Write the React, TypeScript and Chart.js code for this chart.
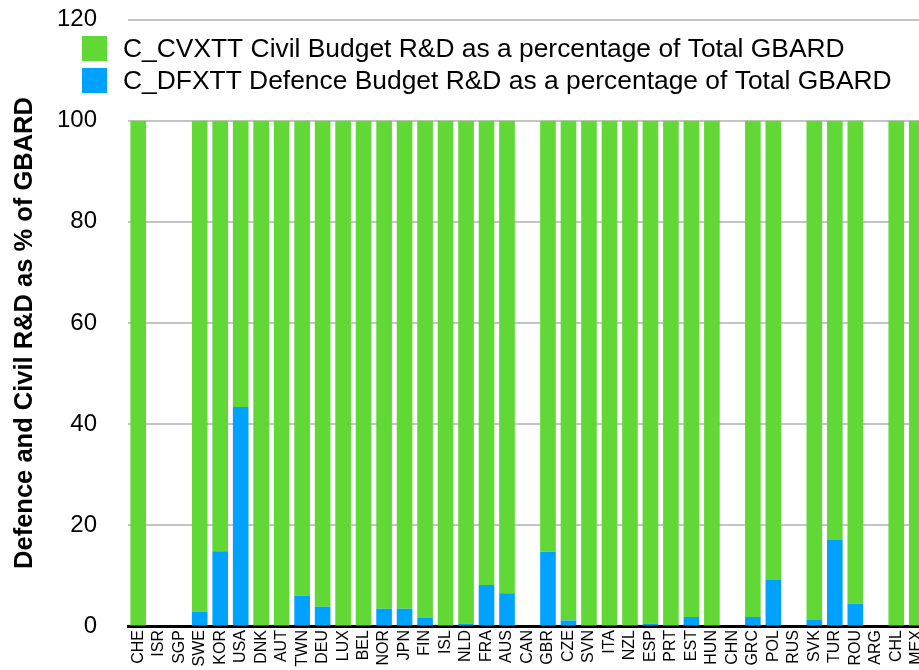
import { useEffect, useRef } from 'react';
import { Chart, registerables } from 'chart.js';

Chart.register(...registerables);

const FONT = "'Liberation Sans', Arial, Helvetica, sans-serif";
const GREEN = '#61D836';
const BLUE = '#00A2FF';

const categories = [
  'CHE', 'ISR', 'SGP', 'SWE', 'KOR', 'USA', 'DNK', 'AUT', 'TWN', 'DEU',
  'LUX', 'BEL', 'NOR', 'JPN', 'FIN', 'ISL', 'NLD', 'FRA', 'AUS', 'CAN',
  'GBR', 'CZE', 'SVN', 'ITA', 'NZL', 'ESP', 'PRT', 'EST', 'HUN', 'CHN',
  'GRC', 'POL', 'RUS', 'SVK', 'TUR', 'ROU', 'ARG', 'CHL', 'MEX',
];

const defence: (number | null)[] = [
  0, null, null, 3, 14.9, 43.4, 0, 0, 6.1, 3.9,
  0, 0, 3.5, 3.5, 1.8, 0, 0.6, 8.2, 6.6, null,
  14.8, 1.2, 0, 0, 0, 0.6, 0, 1.9, 0, null,
  1.9, 9.2, null, 1.3, 17.1, 4.5, null, 0, 0,
];

const civil: (number | null)[] = [
  100, null, null, 97, 85.1, 56.6, 100, 100, 93.9, 96.1,
  100, 100, 96.5, 96.5, 98.2, 100, 99.4, 91.8, 93.4, null,
  85.2, 98.8, 100, 100, 100, 99.4, 100, 98.1, 100, null,
  98.1, 90.8, null, 98.7, 82.9, 95.5, null, 100, 100,
];

const yTicks = [0, 20, 40, 60, 80, 100, 120];

const civilLabel = 'C_CVXTT Civil Budget R&D as a percentage of Total GBARD';
const defenceLabel = 'C_DFXTT Defence Budget R&D as a percentage of Total GBARD';
const yTitle = 'Defence and Civil R&D as % of GBARD';

const legendPlugin = {
  id: 'insideLegend',
  afterDraw(chart: any) {
    const ctx = chart.ctx;
    const items = [...chart.data.datasets].reverse();
    ctx.save();
    ctx.font = `26.4px ${FONT}`;
    ctx.textBaseline = 'middle';
    ctx.textAlign = 'left';
    items.forEach((ds: any, i: number) => {
      const y = 36 + i * 32;
      ctx.fillStyle = ds.backgroundColor;
      ctx.fillRect(82, y, 25, 25);
      ctx.fillStyle = '#000';
      ctx.fillText(ds.label, 123, y + 13.5);
    });
    ctx.restore();
  },
};

const yTitlePlugin = {
  id: 'yTitle',
  afterDraw(chart: any) {
    const ctx = chart.ctx;
    ctx.save();
    ctx.translate(25, 333);
    ctx.rotate(-Math.PI / 2);
    ctx.font = `bold 25.5px ${FONT}`;
    ctx.textAlign = 'center';
    ctx.textBaseline = 'middle';
    ctx.fillStyle = '#000';
    ctx.fillText(yTitle, 0, 0);
    ctx.restore();
  },
};

export default function App() {
  const ref = useRef<HTMLCanvasElement>(null);
  useEffect(() => {
    const chart = new Chart(ref.current!, {
      type: 'bar',
      data: {
        labels: categories,
        datasets: [
          {
            label: defenceLabel,
            data: defence,
            backgroundColor: BLUE,
            barPercentage: 0.763,
            categoryPercentage: 1,
          },
          {
            label: civilLabel,
            data: civil,
            backgroundColor: GREEN,
            barPercentage: 0.763,
            categoryPercentage: 1,
          },
        ],
      },
      options: {
        animation: false,
        responsive: false,
        layout: { padding: { left: 58, top: 19.5, right: 10, bottom: 0 } },
        plugins: { legend: { display: false }, tooltip: { enabled: false } },
        scales: {
          x: {
            stacked: true,
            grid: { display: false, drawTicks: false },
            border: { color: '#000', width: 3 },
            ticks: {
              minRotation: 90,
              maxRotation: 90,
              autoSkip: false,
              padding: 3.5,
              color: '#000',
              font: { family: FONT, size: 16 },
            },
            afterFit: (axis: any) => {
              axis.paddingLeft = 0;
              axis.paddingRight = 0;
            },
          },
          y: {
            stacked: true,
            min: 0,
            max: 120,
            afterBuildTicks: (axis: any) => {
              axis.ticks = yTicks.map((v) => ({ value: v }));
            },
            ticks: {
              padding: 31,
              color: '#000',
              font: { family: FONT, size: 24 },
            },
            grid: { color: '#c4c4c4', lineWidth: 2, drawTicks: false },
            border: { display: false },
            afterFit: (axis: any) => {
              axis.width = 70;
              axis.paddingTop = 0;
              axis.paddingBottom = 0;
            },
          },
        },
      },
      plugins: [legendPlugin, yTitlePlugin],
    });
    return () => chart.destroy();
  }, []);
  return (
    <div
      style={{
        position: 'absolute',
        left: 0,
        top: 0,
        width: 919,
        height: 670,
        overflow: 'hidden',
        background: '#fff',
      }}
    >
      <canvas
        ref={ref}
        width={937}
        height={670}
        style={{ width: 937, height: 670, display: 'block' }}
      />
    </div>
  );
}
